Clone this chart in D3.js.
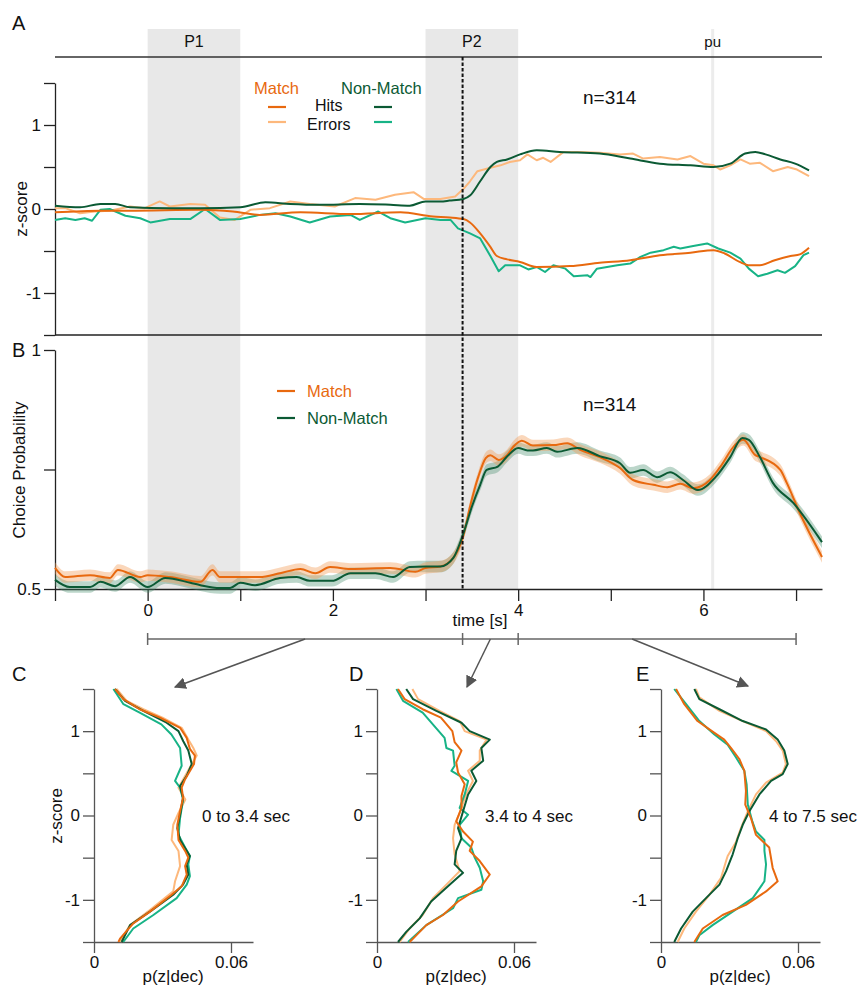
<!DOCTYPE html>
<html><head><meta charset="utf-8">
<script src="https://cdn.jsdelivr.net/npm/d3@7"></script>
<style>
body{margin:0;background:#fff}
text{font-family:"Liberation Sans",Arial,Helvetica,sans-serif;fill:#111}
</style>
</head><body>
<svg id="chart" width="865" height="988"></svg>
<script>
// ---------------- DATA ----------------
const epochLabels = ["P1", "P2"];
const epochStarts = [0, 3];
const epochEnds = [1, 4];
const puTime = 6.1;
const decisionTime = 3.4;
const timeTicks = [-1, 0, 1, 2, 3, 4, 5, 6, 7];
const timeTickLabels = [0, 2, 4, 6];
const nLabel = "n=314";

// Panel A: mean z-score over time [t, z]
const zMatchHits = [[-1,-0.04],[-0.5,-0.02],[-0.2,-0.02],[0.57,-0.01],[0.92,-0.03],[1.21,-0.07],[1.65,-0.04],[2.19,-0.06],[2.73,-0.04],[3.08,-0.09],[3.26,-0.1],[3.41,-0.12],[3.48,-0.16],[3.59,-0.29],[3.7,-0.45],[3.77,-0.56],[3.88,-0.6],[4.02,-0.63],[4.2,-0.69],[4.56,-0.68],[4.88,-0.64],[5.21,-0.61],[5.53,-0.55],[5.86,-0.52],[6.11,-0.49],[6.23,-0.53],[6.39,-0.63],[6.5,-0.67],[6.61,-0.67],[6.77,-0.61],[6.94,-0.56],[7.04,-0.54],[7.14,-0.46]];
const zNonMatchHits = [[-1,0.04],[-0.73,0.02],[-0.51,0.06],[-0.35,0.06],[-0.19,0.02],[0.24,0.01],[0.57,0.01],[1.0,0.02],[1.27,0.08],[1.54,0.06],[1.86,0.05],[2.29,0.06],[2.62,0.05],[2.83,0.04],[3.0,0.09],[3.16,0.09],[3.26,0.1],[3.41,0.12],[3.48,0.16],[3.59,0.33],[3.7,0.5],[3.77,0.56],[3.88,0.59],[4.02,0.65],[4.2,0.7],[4.45,0.68],[4.88,0.66],[5.21,0.6],[5.53,0.54],[5.86,0.52],[6.11,0.5],[6.29,0.54],[6.45,0.66],[6.56,0.68],[6.67,0.65],[6.83,0.59],[6.99,0.54],[7.14,0.46]];
const zMatchErrors = [[-1,0.01],[-0.89,0.01],[-0.73,-0.05],[-0.57,-0.03],[-0.41,-0.02],[-0.19,0.03],[-0.03,0.01],[0.13,0.09],[0.24,0.03],[0.46,0.06],[0.62,0.05],[0.78,-0.1],[0.94,-0.13],[1.11,-0.01],[1.32,0.01],[1.54,0.09],[1.75,0.06],[2.02,0.03],[2.24,0.13],[2.46,0.11],[2.67,0.17],[2.87,0.2],[2.98,0.12],[3.16,0.12],[3.32,0.15],[3.41,0.24],[3.48,0.33],[3.56,0.45],[3.7,0.49],[3.81,0.52],[3.91,0.56],[4.02,0.58],[4.1,0.65],[4.2,0.58],[4.27,0.61],[4.35,0.56],[4.49,0.68],[4.67,0.68],[4.88,0.67],[5.1,0.65],[5.24,0.66],[5.35,0.6],[5.53,0.62],[5.72,0.59],[5.86,0.63],[6.0,0.54],[6.11,0.52],[6.18,0.47],[6.29,0.52],[6.4,0.59],[6.5,0.54],[6.61,0.55],[6.75,0.45],[6.91,0.5],[7.01,0.47],[7.14,0.39]];
const zNonMatchErrors = [[-1,-0.13],[-0.89,-0.11],[-0.78,-0.13],[-0.68,-0.11],[-0.6,-0.14],[-0.51,-0.01],[-0.41,0.0],[-0.24,-0.08],[-0.08,-0.11],[0.03,-0.16],[0.24,-0.12],[0.46,-0.12],[0.62,0.0],[0.78,-0.13],[1.0,-0.12],[1.21,-0.07],[1.38,-0.05],[1.54,-0.09],[1.75,-0.16],[1.97,-0.09],[2.19,-0.07],[2.29,-0.13],[2.49,-0.03],[2.62,-0.11],[2.78,-0.16],[3.0,-0.11],[3.16,-0.13],[3.27,-0.13],[3.35,-0.23],[3.48,-0.29],[3.59,-0.35],[3.7,-0.56],[3.79,-0.74],[3.86,-0.67],[4.02,-0.67],[4.11,-0.72],[4.2,-0.69],[4.29,-0.75],[4.38,-0.67],[4.51,-0.71],[4.6,-0.8],[4.75,-0.79],[4.78,-0.81],[4.85,-0.71],[5.07,-0.67],[5.21,-0.65],[5.32,-0.57],[5.43,-0.52],[5.57,-0.49],[5.68,-0.45],[5.75,-0.47],[5.89,-0.44],[6.04,-0.41],[6.16,-0.47],[6.29,-0.52],[6.4,-0.59],[6.49,-0.71],[6.59,-0.8],[6.69,-0.77],[6.8,-0.73],[6.88,-0.76],[6.99,-0.68],[7.08,-0.55],[7.14,-0.52]];

// Panel B: choice probability [t, cp]
const cpMatch = [[-1,0.544],[-0.89,0.525],[-0.62,0.529],[-0.41,0.523],[-0.32,0.54],[-0.08,0.525],[0,0.529],[0.24,0.525],[0.57,0.515],[0.7,0.54],[0.78,0.525],[1.21,0.525],[1.43,0.533],[1.65,0.542],[1.81,0.533],[1.97,0.546],[2.19,0.542],[2.62,0.544],[2.89,0.536],[3.0,0.544],[3.16,0.547],[3.3,0.565],[3.41,0.613],[3.48,0.672],[3.57,0.735],[3.65,0.774],[3.7,0.78],[3.79,0.77],[3.88,0.78],[3.95,0.798],[4.04,0.81],[4.16,0.8],[4.38,0.801],[4.53,0.805],[4.67,0.791],[4.88,0.776],[5.1,0.753],[5.24,0.728],[5.46,0.718],[5.61,0.713],[5.75,0.72],[5.89,0.711],[6.07,0.728],[6.18,0.755],[6.34,0.801],[6.43,0.812],[6.56,0.78],[6.61,0.776],[6.83,0.749],[6.9,0.722],[7.04,0.659],[7.28,0.567]];
const cpNonMatch = [[-1,0.519],[-0.84,0.504],[-0.62,0.504],[-0.51,0.515],[-0.35,0.506],[-0.19,0.525],[0,0.504],[0.19,0.523],[0.46,0.513],[0.57,0.508],[0.78,0.502],[0.89,0.502],[1.0,0.513],[1.16,0.508],[1.43,0.523],[1.61,0.525],[1.75,0.517],[1.99,0.517],[2.19,0.533],[2.46,0.533],[2.65,0.525],[2.83,0.546],[3.0,0.547],[3.16,0.547],[3.3,0.565],[3.41,0.617],[3.5,0.672],[3.59,0.718],[3.66,0.749],[3.78,0.756],[3.88,0.777],[4.0,0.795],[4.1,0.79],[4.16,0.79],[4.31,0.795],[4.42,0.787],[4.64,0.795],[4.88,0.778],[5.1,0.763],[5.21,0.743],[5.35,0.749],[5.5,0.734],[5.64,0.744],[5.78,0.728],[5.94,0.707],[6.13,0.734],[6.29,0.776],[6.42,0.816],[6.49,0.812],[6.61,0.776],[6.75,0.722],[6.97,0.68],[7.28,0.598]];
const cpSem = 0.012;

// Panels C-E: z-score distributions [z, p(z|dec)]
const windowLabels = ["0 to 3.4 sec", "3.4 to 4 sec", "4 to 7.5 sec"];
const windowStarts = [0, 3.4, 4];
const windowEnds = [3.4, 4, 7];
const pMatchHits = [
  [[1.5,0.0092],[1.38,0.0129],[1.26,0.020],[1.16,0.0289],[1.04,0.0377],[0.92,0.0406],[0.79,0.042],[0.71,0.0442],[0.61,0.0438],[0.43,0.0399],[0.33,0.0384],[0.21,0.039],[0.05,0.0377],[-0.11,0.0365],[-0.29,0.037],[-0.42,0.0399],[-0.5,0.0413],[-0.6,0.0399],[-0.7,0.0406],[-0.84,0.0384],[-0.94,0.034],[-1.14,0.0245],[-1.28,0.0172],[-1.46,0.0114],[-1.5,0.0107]],
  [[1.5,0.0092],[1.38,0.0121],[1.26,0.020],[1.16,0.028],[1.0,0.033],[0.87,0.034],[0.77,0.037],[0.63,0.0347],[0.51,0.0355],[0.37,0.0384],[0.23,0.037],[0.09,0.037],[-0.07,0.0347],[-0.19,0.0377],[-0.31,0.042],[-0.42,0.0406],[-0.54,0.045],[-0.7,0.0494],[-0.84,0.0457],[-1.02,0.0355],[-1.18,0.0289],[-1.3,0.0216],[-1.46,0.0158],[-1.5,0.0143]],
  [[1.5,0.0066],[1.32,0.0102],[1.12,0.016],[0.98,0.0234],[0.9,0.0277],[0.8,0.0307],[0.67,0.0343],[0.53,0.0365],[0.29,0.0372],[0.13,0.0369],[-0.03,0.0394],[-0.23,0.0416],[-0.38,0.0474],[-0.62,0.0489],[-0.78,0.0511],[-0.9,0.046],[-1.06,0.0372],[-1.18,0.027],[-1.34,0.0183],[-1.5,0.0146]]
];
const pMatchErrors = [
  [[1.5,0.0099],[1.36,0.0143],[1.26,0.0216],[1.16,0.030],[1.04,0.0384],[0.9,0.0413],[0.8,0.0435],[0.71,0.045],[0.57,0.042],[0.33,0.037],[0.19,0.040],[0.03,0.037],[-0.11,0.0347],[-0.29,0.034],[-0.42,0.037],[-0.6,0.0377],[-0.78,0.0355],[-0.9,0.0347],[-1.12,0.0245],[-1.3,0.0158],[-1.46,0.0121],[-1.5,0.0115]],
  [[1.5,0.0155],[1.38,0.018],[1.24,0.0274],[1.12,0.0362],[1.0,0.0384],[0.9,0.048],[0.77,0.045],[0.65,0.045],[0.53,0.0399],[0.41,0.042],[0.25,0.039],[0.05,0.0365],[-0.11,0.034],[-0.27,0.0333],[-0.46,0.034],[-0.66,0.0362],[-0.82,0.0304],[-0.98,0.0245],[-1.18,0.020],[-1.34,0.0143],[-1.5,0.0099]],
  [[1.5,0.0153],[1.4,0.0168],[1.24,0.0256],[1.12,0.0358],[1.0,0.046],[0.88,0.0504],[0.77,0.0533],[0.61,0.0547],[0.51,0.0533],[0.39,0.046],[0.25,0.0416],[0.05,0.038],[-0.15,0.035],[-0.31,0.0329],[-0.48,0.0292],[-0.54,0.0285],[-0.74,0.0263],[-0.94,0.0212],[-1.14,0.0153],[-1.34,0.0102],[-1.5,0.0073]]
];
const pNonMatchHits = [
  [[1.5,0.0092],[1.36,0.0136],[1.24,0.0216],[1.1,0.0318],[1.0,0.037],[0.88,0.0391],[0.77,0.0413],[0.61,0.0428],[0.47,0.0406],[0.35,0.0377],[0.21,0.039],[0.01,0.0377],[-0.15,0.0365],[-0.29,0.0377],[-0.48,0.042],[-0.58,0.0406],[-0.7,0.0413],[-0.82,0.039],[-0.94,0.0347],[-1.14,0.0245],[-1.3,0.0158],[-1.5,0.0121]],
  [[1.5,0.0128],[1.38,0.0158],[1.24,0.026],[1.1,0.037],[1.0,0.0406],[0.9,0.0494],[0.8,0.0457],[0.65,0.0465],[0.53,0.0413],[0.41,0.0435],[0.25,0.0399],[0.05,0.0377],[-0.15,0.0355],[-0.27,0.037],[-0.42,0.0347],[-0.58,0.034],[-0.68,0.0377],[-0.82,0.0318],[-1.02,0.0237],[-1.22,0.0187],[-1.38,0.0128],[-1.5,0.0092]],
  [[1.5,0.0146],[1.38,0.0168],[1.26,0.0256],[1.12,0.0358],[1.02,0.046],[0.9,0.0511],[0.77,0.054],[0.61,0.0555],[0.49,0.0533],[0.41,0.0482],[0.25,0.0431],[0.05,0.0387],[-0.11,0.0358],[-0.27,0.0336],[-0.46,0.0314],[-0.66,0.0285],[-0.82,0.0256],[-0.98,0.0197],[-1.14,0.0139],[-1.34,0.0088],[-1.5,0.0058]]
];
const pNonMatchErrors = [
  [[1.5,0.0085],[1.32,0.0129],[1.22,0.020],[1.08,0.0295],[0.96,0.0339],[0.8,0.0377],[0.59,0.0384],[0.41,0.0355],[0.33,0.0377],[0.19,0.039],[-0.03,0.0377],[-0.23,0.037],[-0.38,0.0399],[-0.48,0.042],[-0.58,0.0413],[-0.72,0.042],[-0.82,0.0406],[-0.98,0.0362],[-1.18,0.026],[-1.34,0.0172],[-1.5,0.0128]],
  [[1.5,0.0085],[1.36,0.0114],[1.22,0.020],[0.92,0.0296],[0.8,0.0304],[0.77,0.0333],[0.59,0.034],[0.53,0.0326],[0.41,0.0399],[0.25,0.0384],[0.09,0.0362],[0.01,0.0399],[-0.11,0.0362],[-0.27,0.037],[-0.38,0.0413],[-0.5,0.0428],[-0.62,0.045],[-0.78,0.0465],[-0.88,0.0457],[-0.98,0.0355],[-1.1,0.0333],[-1.3,0.0216],[-1.5,0.0136]],
  [[1.5,0.0058],[1.32,0.011],[1.12,0.0168],[0.96,0.0234],[0.84,0.0292],[0.69,0.0328],[0.53,0.0365],[0.37,0.0375],[0.13,0.038],[-0.07,0.040],[-0.19,0.0416],[-0.29,0.0453],[-0.42,0.0453],[-0.58,0.046],[-0.78,0.0453],[-0.98,0.0402],[-1.14,0.0314],[-1.3,0.0226],[-1.42,0.0168],[-1.5,0.0153]]
];

// ---------------- STYLE ----------------
const cMatchHit = "#e8690f";
const cMatchErr = "#fdb87c";
const cNMHit = "#0b5a34";
const cNMErr = "#17b386";
const axisCol = "#222";
const lowAxisCol = "#555";
const fs = 17;

const svg = d3.select("#chart");

const x = d3.scaleLinear().domain([-1, 7.28]).range([55, 822]);
const yA = d3.scaleLinear().domain([-1.5, 1.5]).range([335, 83]);
const yB = d3.scaleLinear().domain([0.5, 1]).range([589, 350]);

// shaded epochs
epochLabels.forEach((lab, i) => {
  svg.append("rect").attr("x", x(epochStarts[i])).attr("y", 29)
    .attr("width", x(epochEnds[i]) - x(epochStarts[i])).attr("height", 589 - 29)
    .attr("fill", "#e8e8e8");
  svg.append("text").attr("x", (x(epochStarts[i]) + x(epochEnds[i])) / 2).attr("y", 47)
    .attr("text-anchor", "middle").attr("font-size", 16).text(lab);
});
svg.append("rect").attr("x", x(puTime) - 1.5).attr("y", 29).attr("width", 3).attr("height", 560).attr("fill", "#ececec");
svg.append("text").attr("x", x(puTime)).attr("y", 47).attr("text-anchor", "middle").attr("font-size", 15).text("pu");

// top line
svg.append("line").attr("x1", 55).attr("x2", 822).attr("y1", 57).attr("y2", 57).attr("stroke", "#333").attr("stroke-width", 1.6);

// Panel A axes
const fmtZ = d => (d === -1 ? "-1" : d === 0 ? "0" : d === 1 ? "1" : "");
const zTicks = [-1.5, -1, -0.5, 0, 0.5, 1, 1.5];
function styleAxis(g, col) {
  g.selectAll("path, line").attr("stroke", col).attr("stroke-width", 1.3);
  g.selectAll("text").attr("font-size", fs).attr("fill", "#111")
    .attr("font-family", '"Liberation Sans", Arial, sans-serif');
}
const gA = svg.append("g").attr("transform", "translate(55,0)")
  .call(d3.axisLeft(yA).tickValues(zTicks).tickSize(11).tickSizeOuter(0).tickPadding(3).tickFormat(fmtZ));
styleAxis(gA, axisCol);
svg.append("line").attr("x1", 55).attr("x2", 822).attr("y1", yA(-1.5)).attr("y2", yA(-1.5)).attr("stroke", axisCol).attr("stroke-width", 1.3);

// Panel B axes
const gBy = svg.append("g").attr("transform", "translate(55,0)")
  .call(d3.axisLeft(yB).tickValues([0.5, 0.75, 1]).tickSize(11).tickSizeOuter(0).tickPadding(3)
    .tickFormat(d => (d === 0.5 ? "0.5" : d === 1 ? "1" : "")));
styleAxis(gBy, axisCol);
const gBx = svg.append("g").attr("transform", "translate(0,589)")
  .call(d3.axisBottom(x).tickValues(timeTicks).tickSize(12).tickSizeOuter(0).tickPadding(3)
    .tickFormat(d => (timeTickLabels.includes(d) ? String(d) : "")));
styleAxis(gBx, axisCol);
svg.append("text").attr("x", 480).attr("y", 626).attr("text-anchor", "middle").attr("font-size", fs).text("time [s]");

// labels
svg.append("text").attr("x", 12).attr("y", 30).attr("font-size", 20).text("A");
svg.append("text").attr("x", 12).attr("y", 357).attr("font-size", 20).text("B");
svg.append("text").attr("transform", "translate(27,209) rotate(-90)").attr("text-anchor", "middle").attr("font-size", fs).text("z-score");
svg.append("text").attr("transform", "translate(25,470) rotate(-90)").attr("text-anchor", "middle").attr("font-size", fs).text("Choice Probability");
svg.append("text").attr("x", 583).attr("y", 104).attr("font-size", 19).text(nLabel);
svg.append("text").attr("x", 583).attr("y", 411).attr("font-size", 19).text(nLabel);

// Panel A lines
const lineA = d3.line().x(d => x(d[0])).y(d => yA(d[1]));
const lineAs = d3.line().x(d => x(d[0])).y(d => yA(d[1])).curve(d3.curveMonotoneX);
[[zMatchErrors, cMatchErr, lineA], [zNonMatchErrors, cNMErr, lineA], [zMatchHits, cMatchHit, lineAs], [zNonMatchHits, cNMHit, lineAs]]
  .forEach(([data, col, gen]) => {
    svg.append("path").attr("d", gen(data)).attr("fill", "none").attr("stroke", col).attr("stroke-width", 2).attr("stroke-linejoin", "round");
  });

// Legend A
svg.append("text").attr("x", 254).attr("y", 94).attr("font-size", 16.5).style("fill", cMatchHit).text("Match");
svg.append("text").attr("x", 341).attr("y", 94).attr("font-size", 16.5).style("fill", cNMHit).text("Non-Match");
svg.append("text").attr("x", 315).attr("y", 111).attr("font-size", 16).text("Hits");
svg.append("text").attr("x", 307).attr("y", 130).attr("font-size", 16).text("Errors");
[[268, 107, cMatchHit], [268, 122, cMatchErr], [374, 107, cNMHit], [374, 122, cNMErr]].forEach(([lx, ly, c]) => {
  svg.append("line").attr("x1", lx).attr("x2", lx + 18).attr("y1", ly).attr("y2", ly).attr("stroke", c).attr("stroke-width", 2.2);
});

// Panel B bands and lines
const areaB = d3.area().x(d => x(d[0])).y0(d => yB(d[1] - cpSem)).y1(d => yB(d[1] + cpSem)).curve(d3.curveMonotoneX);
const lineB = d3.line().x(d => x(d[0])).y(d => yB(d[1])).curve(d3.curveMonotoneX);
svg.append("path").attr("d", areaB(cpNonMatch)).attr("fill", "#3f8a68").attr("fill-opacity", 0.35);
svg.append("path").attr("d", areaB(cpMatch)).attr("fill", "#f39a55").attr("fill-opacity", 0.4);
svg.append("path").attr("d", lineB(cpMatch)).attr("fill", "none").attr("stroke", cMatchHit).attr("stroke-width", 2);
svg.append("path").attr("d", lineB(cpNonMatch)).attr("fill", "none").attr("stroke", cNMHit).attr("stroke-width", 2);

// Legend B
svg.append("line").attr("x1", 277).attr("x2", 295).attr("y1", 391).attr("y2", 391).attr("stroke", cMatchHit).attr("stroke-width", 2.2);
svg.append("line").attr("x1", 277).attr("x2", 295).attr("y1", 418).attr("y2", 418).attr("stroke", cNMHit).attr("stroke-width", 2.2);
svg.append("text").attr("x", 307).attr("y", 397).attr("font-size", 16.5).style("fill", cMatchHit).text("Match");
svg.append("text").attr("x", 307).attr("y", 424).attr("font-size", 16.5).style("fill", cNMHit).text("Non-Match");

// decision dashed line
svg.append("line").attr("x1", x(decisionTime)).attr("x2", x(decisionTime)).attr("y1", 57).attr("y2", 589)
  .attr("stroke", "#111").attr("stroke-width", 2).attr("stroke-dasharray", "3.5,2");

// Bracket under time axis
const bracketY = 639;
svg.append("line").attr("x1", x(windowStarts[0])).attr("x2", x(windowEnds[2])).attr("y1", bracketY).attr("y2", bracketY).attr("stroke", "#666").attr("stroke-width", 1.5);
[windowStarts[0], windowStarts[1], windowStarts[2], windowEnds[2]].forEach(t => {
  svg.append("line").attr("x1", x(t)).attr("x2", x(t)).attr("y1", bracketY - 6).attr("y2", bracketY + 6).attr("stroke", "#666").attr("stroke-width", 1.5);
});

// arrows
const defs = svg.append("defs");
defs.append("marker").attr("id", "ah").attr("viewBox", "0 0 10 10").attr("refX", 9).attr("refY", 5)
  .attr("markerWidth", 12).attr("markerHeight", 12).attr("markerUnits", "userSpaceOnUse").attr("orient", "auto")
  .append("path").attr("d", "M0,0 L10,5 L0,10 Z").attr("fill", "#555");
const arrowStarts = [1.7, 3.7, 5.23];
const arrowTips = [[175, 687], [467, 687], [748, 686]];
arrowStarts.forEach((t, i) => {
  svg.append("line").attr("x1", x(t)).attr("y1", bracketY).attr("x2", arrowTips[i][0]).attr("y2", arrowTips[i][1])
    .attr("stroke", "#555").attr("stroke-width", 1.5).attr("marker-end", "url(#ah)");
});

// Panels C, D, E
const panelAxX = [94, 377, 661];
const panelLetters = ["C", "D", "E"];
const letterX = [12, 349, 636];
const pz = d3.scaleLinear().domain([-1.5, 1.5]).range([942, 689]);
panelAxX.forEach((ax, i) => {
  const px = d3.scaleLinear().domain([0, 0.06]).range([ax, ax + 137]);
  const pxAxis = d3.scaleLinear().domain([0, 0.06 * 159 / 137]).range([ax, ax + 159]);
  const gy = svg.append("g").attr("transform", `translate(${ax},0)`)
    .call(d3.axisLeft(pz).tickValues(zTicks).tickSize(11).tickSizeOuter(0).tickPadding(3).tickFormat(fmtZ));
  styleAxis(gy, lowAxisCol);
  const gx = svg.append("g").attr("transform", "translate(0,942)")
    .call(d3.axisBottom(pxAxis).tickValues([0, 0.06]).tickSize(11).tickSizeOuter(0).tickPadding(3)
      .tickFormat(d => (d === 0 ? "0" : "0.06")));
  styleAxis(gx, lowAxisCol);
  svg.append("text").attr("x", ax + 79).attr("y", 982).attr("text-anchor", "middle").attr("font-size", fs).text("p(z|dec)");
  svg.append("text").attr("x", letterX[i]).attr("y", 681).attr("font-size", 20).text(panelLetters[i]);
  svg.append("text").attr("x", ax + 108).attr("y", 822).attr("font-size", fs).text(windowLabels[i]);

  const lp = d3.line().x(d => px(d[1])).y(d => pz(d[0]));
  [[pMatchErrors[i], cMatchErr], [pNonMatchErrors[i], cNMErr], [pNonMatchHits[i], cNMHit], [pMatchHits[i], cMatchHit]]
    .forEach(([data, col]) => {
      svg.append("path").attr("d", lp(data)).attr("fill", "none").attr("stroke", col).attr("stroke-width", 2).attr("stroke-linejoin", "round");
    });
});
svg.append("text").attr("transform", "translate(62,816) rotate(-90)").attr("text-anchor", "middle").attr("font-size", fs).text("z-score");
</script>
</body></html>
